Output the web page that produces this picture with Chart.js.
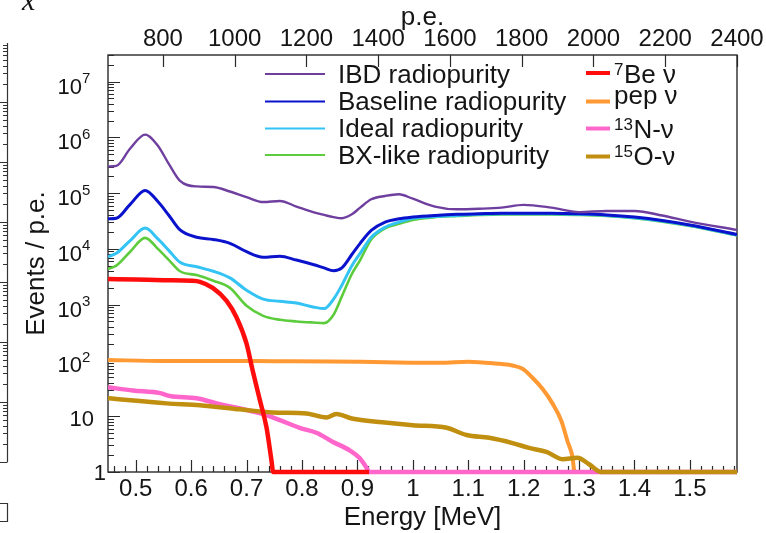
<!DOCTYPE html>
<html lang="en">
<head>
<meta charset="utf-8">
<title>Energy spectra</title>
<script src="https://cdn.jsdelivr.net/npm/chart.js@4.4.1/dist/chart.umd.min.js"></script>
<style>
  html, body { margin: 0; padding: 0; background: #ffffff; }
  #frame { width: 766px; height: 533px; }
  canvas { display: block; }
</style>
</head>
<body>
<div id="frame"><canvas id="spectrum" width="766" height="533"></canvas></div>
<script>
// Background spectra for the four radiopurity scenarios on a common energy grid [MeV]
const bgEnergy = [0.45, 0.465, 0.49, 0.517, 0.54, 0.56, 0.58, 0.61, 0.64, 0.67, 0.70, 0.73, 0.76, 0.79,
  0.82, 0.84, 0.857, 0.872, 0.89, 0.905, 0.925, 0.95, 0.975, 1.0, 1.04, 1.08, 1.12, 1.16, 1.2, 1.25,
  1.3, 1.35, 1.4, 1.45, 1.5, 1.585];
const ibdRadiopurity = [302000, 309000, 631000, 1122000, 708000, 331000, 166000, 132000, 129000, 107000,
  85100, 69200, 72400, 57500, 45700, 40700, 37200, 35500, 41700, 55000, 77600, 89100, 95500, 79400,
  57500, 51300, 52500, 55000, 61700, 55000, 45700, 47900, 47900, 39800, 30900, 21900];
const baselineRadiopurity = [34700, 35500, 63100, 112000, 70800, 39800, 21900, 16200, 14800, 12600,
  8910, 7080, 7410, 6310, 5250, 4570, 4070, 4570, 7940, 12600, 21400, 30200, 34700, 37200,
  39800, 41700, 42700, 43600, 43600, 43600, 42700, 40700, 37200, 32400, 26900, 18200];
const idealRadiopurity = [7240, 8320, 14100, 23700, 15100, 9330, 5750, 4790, 3980, 3020,
  1820, 1260, 1150, 1070, 912, 851, 1260, 2240, 5010, 8320, 16200, 24500, 30200, 35500,
  38000, 39800, 41700, 42700, 42700, 42700, 41700, 39800, 36300, 31600, 26300, 17800];
const bxLikeRadiopurity = [4370, 5010, 8910, 15800, 10000, 6310, 3980, 3390, 2690, 2000,
  955, 631, 537, 501, 479, 468, 661, 1410, 3550, 6310, 14800, 23400, 28200, 33100,
  37200, 38900, 40700, 41700, 41700, 41700, 40700, 38900, 35500, 30900, 25700, 17400];

// Solar neutrino signal spectra [MeV] -> events / p.e.
const be7Energy = [0.45, 0.5, 0.55, 0.6, 0.616, 0.639, 0.664, 0.682, 0.70, 0.711, 0.724, 0.736, 0.745, 0.748, 0.921];
const be7Events = [2880, 2820, 2750, 2690, 2570, 2000, 1170, 590, 200, 66, 19.5, 6.3, 1.6, 1, 1];
const pepEnergy = [0.45, 0.55, 0.65, 0.75, 0.85, 0.95, 1.05, 1.1, 1.15, 1.18, 1.198, 1.216, 1.234, 1.252, 1.268, 1.279, 1.288, 1.292, 1.34];
const pepEvents = [102, 98, 98, 97, 96, 93, 91, 95, 88, 81, 71, 49, 31, 17, 8.3, 3.6, 1.9, 1, 1];
const n13Energy = [0.45, 0.495, 0.544, 0.562, 0.61, 0.646, 0.688, 0.729, 0.76, 0.796, 0.827, 0.855, 0.886, 0.904, 0.917, 0.921, 1.585];
const n13Events = [33, 29, 26, 23, 21, 17, 13.8, 11, 8.5, 6.2, 5.0, 3.5, 2.45, 1.78, 1.17, 1, 1];
const o15Energy = [0.45, 0.556, 0.616, 0.688, 0.747, 0.808, 0.844, 0.862, 0.89, 0.945, 1.0, 1.061, 1.097, 1.138, 1.18, 1.21, 1.241, 1.27, 1.297, 1.318, 1.34, 1.585];
const o15Events = [21, 17, 15.8, 13.3, 11.7, 11.2, 9.5, 11, 9.1, 7.8, 6.9, 6.2, 4.6, 4.1, 3.3, 2.7, 2.3, 1.7, 1.8, 1.38, 1, 1];

// Axis ticks
const energyTicks = [0.5, 0.6, 0.7, 0.8, 0.9, 1.0, 1.1, 1.2, 1.3, 1.4, 1.5];
const peTicks = [800, 1000, 1200, 1400, 1600, 1800, 2000, 2200, 2400];
const decadeTicks = [1, 10, 100, 1e3, 1e4, 1e5, 1e6, 1e7];

const FONT = '"Liberation Sans", Arial, Helvetica, sans-serif';
const INK = '#151515';

const toPoints = (xs, ys) => xs.map((x, i) => ({ x, y: ys[i] }));
function series(label, xs, ys, color, width, order, legendSpec) {
  return {
    label, data: toPoints(xs, ys), borderColor: color, backgroundColor: color,
    borderWidth: width, pointRadius: 0, pointHoverRadius: 0, fill: false,
    cubicInterpolationMode: 'monotone', borderJoinStyle: 'round', borderCapStyle: 'butt',
    clip: { left: 0, top: 0, right: 0, bottom: 6 }, order, legendSpec
  };
}

const datasets = [
  series('IBD radiopurity', bgEnergy, ibdRadiopurity, '#6f3f9f', 2.4, 1, { col: 'left', row: 0, text: 'IBD radiopurity' }),
  series('Baseline radiopurity', bgEnergy, baselineRadiopurity, '#0b12cc', 3, 2, { col: 'left', row: 1, text: 'Baseline radiopurity' }),
  series('Ideal radiopurity', bgEnergy, idealRadiopurity, '#33c3f5', 3, 3, { col: 'left', row: 2, text: 'Ideal radiopurity' }),
  series('BX-like radiopurity', bgEnergy, bxLikeRadiopurity, '#5ccc3c', 2.6, 4, { col: 'left', row: 3, text: 'BX-like radiopurity' }),
  series('7Be ν', be7Energy, be7Events, '#ff0d0d', 4.5, 5, { col: 'right', row: 0, sup: '7', text: 'Be ν' }),
  series('pep ν', pepEnergy, pepEvents, '#ff9933', 4, 8, { col: 'right', row: 1, text: 'pep ν' }),
  series('13N-ν', n13Energy, n13Events, '#ff66cc', 4.5, 7, { col: 'right', row: 2, sup: '13', text: 'N-ν' }),
  series('15O-ν', o15Energy, o15Events, '#c08f10', 4.5, 6, { col: 'right', row: 3, sup: '15', text: 'O-ν' })
];

// Legend placement (two columns inside the frame)
const legendLayout = {
  left: { x0: 265, x1: 325, tx: 338, lineW: 2, rows: [
    { line: 74, base: 83 }, { line: 101.5, base: 110 }, { line: 128.5, base: 137 }, { line: 155, base: 164 }] },
  right: { x0: 586, x1: 610, tx: 614, lineW: 4, rows: [
    { line: 73, base: 83 }, { line: 101.5, base: 104 }, { line: 128.5, base: 138 }, { line: 156.5, base: 165 }] }
};

const frameAndTicks = {
  id: 'frameAndTicks',
  beforeDatasetsDraw(chart) {
    const { ctx, chartArea: a, scales: { x, xTop, y } } = chart;
    ctx.save();
    ctx.strokeStyle = '#2a2a2a';
    ctx.lineWidth = 1.4;
    ctx.strokeRect(a.left, a.top, a.right - a.left, a.bottom - a.top);
    ctx.lineWidth = 1.2;
    ctx.beginPath();
    // energy axis: minor every 0.02 MeV, major every 0.1 MeV, pointing inward
    for (let k = Math.ceil(x.min * 50); k <= Math.floor(x.max * 50); k++) {
      const px = Math.round(x.getPixelForValue(k / 50)) + 0.5;
      const len = k % 5 === 0 ? 12 : 6;
      ctx.moveTo(px, a.bottom); ctx.lineTo(px, a.bottom - len);
    }
    // p.e. axis on top
    peTicks.forEach(v => {
      const px = Math.round(xTop.getPixelForValue(v)) + 0.5;
      ctx.moveTo(px, a.top); ctx.lineTo(px, a.top + 12);
    });
    // logarithmic axis: decades long, 2..9 short
    for (let d = 0; d <= 7; d++) {
      for (let m = 1; m <= 9; m++) {
        const v = m * Math.pow(10, d);
        if (v < y.min || v > y.max) continue;
        const py = Math.round(y.getPixelForValue(v)) + 0.5;
        ctx.moveTo(a.left, py); ctx.lineTo(a.left + (m === 1 ? 12 : 6), py);
      }
    }
    ctx.stroke();
    ctx.restore();
  },
  afterDraw(chart) {
    const { ctx, scales: { y } } = chart;
    ctx.save();
    ctx.fillStyle = INK;
    ctx.textBaseline = 'alphabetic';
    // decade labels written as powers of ten
    decadeTicks.forEach(v => {
      const n = Math.round(Math.log10(v));
      const py = y.getPixelForValue(v);
      ctx.font = `22px ${FONT}`;
      ctx.textAlign = 'right';
      if (n === 0) {
        ctx.fillText('1', 106, py + 7.9);
      } else if (n === 1) {
        ctx.fillText('10', 94, py + 9.4);
      } else {
        ctx.fillText('10', 82, py + 11.9);
        ctx.font = `15px ${FONT}`;
        ctx.textAlign = 'left';
        ctx.fillText(String(n), 82, py + 1.5);
      }
    });

    // legend
    chart.data.datasets.forEach(ds => {
      const spec = ds.legendSpec;
      const col = legendLayout[spec.col];
      const row = col.rows[spec.row];
      ctx.strokeStyle = ds.borderColor;
      ctx.lineWidth = col.lineW;
      ctx.lineCap = 'butt';
      ctx.beginPath(); ctx.moveTo(col.x0, row.line); ctx.lineTo(col.x1, row.line); ctx.stroke();
      let tx = col.tx;
      ctx.fillStyle = INK;
      ctx.textAlign = 'left';
      if (spec.sup) {
        ctx.font = `17px ${FONT}`;
        ctx.fillText(spec.sup, tx, row.base - 8);
        tx += ctx.measureText(spec.sup).width + 0.5;
      }
      ctx.font = `26px ${FONT}`;
      ctx.fillText(spec.text, tx, row.base);
    });

    // edge of the neighbouring panel on the left
    ctx.strokeStyle = '#333';
    ctx.lineWidth = 1.2;
    ctx.beginPath();
    ctx.moveTo(7.5, 43); ctx.lineTo(7.5, 462);
    for (let d = 0; d < 7; d++) {
      for (let m = 1; m <= 9; m++) {
        const py = Math.round(462 - 60 * (d + Math.log10(m))) + 0.5;
        if (py < 43) continue;
        ctx.moveTo(m === 1 ? 0 : 3, py); ctx.lineTo(7.5, py);
      }
    }
    ctx.moveTo(0, 503.5); ctx.lineTo(7.5, 503.5); ctx.lineTo(7.5, 521.5); ctx.lineTo(0, 521.5);
    ctx.stroke();
    ctx.font = 'italic 30px "Liberation Serif", "DejaVu Serif", serif';
    ctx.fillStyle = INK;
    ctx.textAlign = 'left';
    ctx.fillText('x', 22, 10);
    ctx.restore();
  }
};

new Chart(document.getElementById('spectrum'), {
  type: 'line',
  data: { datasets },
  options: {
    responsive: false,
    animation: false,
    devicePixelRatio: 1,
    layout: { padding: { left: 0, right: 29, top: 0, bottom: 0 } },
    plugins: { legend: { display: false }, tooltip: { enabled: false } },
    scales: {
      x: {
        type: 'linear', position: 'bottom', min: 0.45, max: 1.585,
        afterFit: s => { s.height = 61; },
        afterBuildTicks: s => { s.ticks = energyTicks.map(v => ({ value: v })); },
        ticks: {
          color: INK, font: { family: FONT, size: 24 }, padding: 3,
          maxRotation: 0, minRotation: 0, autoSkip: false,
          callback: v => String(Math.round(v * 10) / 10)
        },
        grid: { display: false, drawTicks: false },
        border: { display: false },
        title: { display: true, text: 'Energy [MeV]', color: INK, font: { family: FONT, size: 26 }, padding: { top: 0, bottom: 0 } }
      },
      xTop: {
        type: 'linear', position: 'top', min: 647, max: 2400,
        afterFit: s => { s.height = 55; },
        afterBuildTicks: s => { s.ticks = peTicks.map(v => ({ value: v })); },
        ticks: {
          color: INK, font: { family: FONT, size: 24 }, padding: 1,
          maxRotation: 0, minRotation: 0, autoSkip: false,
          callback: v => String(v)
        },
        grid: { display: false, drawTicks: false },
        border: { display: false },
        title: { display: true, text: 'p.e.', color: INK, font: { family: FONT, size: 26 }, padding: { top: 2, bottom: 0 } }
      },
      y: {
        type: 'logarithmic', position: 'left', min: 1, max: 3e7,
        afterFit: s => { s.width = 108; },
        afterBuildTicks: s => { s.ticks = decadeTicks.map(v => ({ value: v })); },
        ticks: { display: false },
        grid: { display: false, drawTicks: false },
        border: { display: false },
        title: { display: true, text: 'Events / p.e.', color: INK, font: { family: FONT, size: 26 }, padding: { top: 21, bottom: 0 } }
      }
    }
  },
  plugins: [frameAndTicks]
});
</script>
</body>
</html>
